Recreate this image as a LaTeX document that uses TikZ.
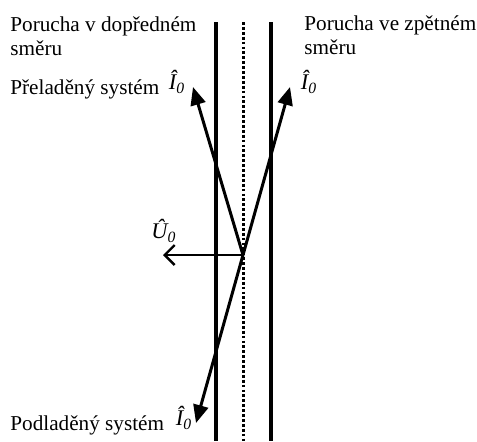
\documentclass[tikz,border=0pt]{standalone}
\usepackage{fontspec}
\setmainfont{Liberation Serif}
\usetikzlibrary{arrows.meta}

\tikzset{
  wall/.style={line width=2pt},
  axisline/.style={line width=1.5pt, dash pattern=on 1.4pt off 1.05pt},
  current/.style={line width=1.5pt, -{Triangle[length=9pt,width=7.5pt]}},
  voltage/.style={line width=1.1pt, -{Straight Barb[length=5pt,width=10pt,line width=1.2pt]}},
  caption/.style={anchor=west, align=left, inner sep=0pt},
  phasor/.style={inner sep=0pt, font=\fontsize{11.2}{12}\selectfont\itshape}
}

\begin{document}
\begin{tikzpicture}[x=0.5pt, y=-0.5pt, font=\fontsize{10.6}{12}\selectfont]
      \useasboundingbox (0,0) rectangle (477,441);

      % LINES
      \coordinate (lt) at (216,22);
      \coordinate (lb) at (216,441);
      \coordinate (rt) at (271,22);
      \coordinate (rb) at (271,441);
      \coordinate (mt) at (243,22);
      \coordinate (mb) at (243,441);

      \draw[wall] (lt) -- (lb);
      \draw[wall] (rt) -- (rb);
      \draw[axisline] (mt) -- (mb);

      % ARROWS
      \coordinate (o)  at (243,255);   % common start point
      \coordinate (iu) at (193,87);
      \coordinate (iz) at (290,87);
      \coordinate (id) at (196,423);
      \coordinate (u)  at (163,255);

      \draw[current] (o) -- (iu);
      \draw[current] (o) -- (iz);
      \draw[current] (o) -- (id);
      \draw[voltage] (o) -- (u);

      % NOTES
      \node[caption] (fwd) at (10,36) {Porucha v dopředném\\směru};
      \node[caption] (bwd) at (304,35) {Porucha ve zpětném\\směru};
      \node[caption] (over) at (10,89) {Přeladěný systém};
      \node[caption] (under) at (10,425) {Podladěný systém};

      \node[phasor] (iul) at (177,82) {Î\textsubscript{0}};
      \node[phasor] (izl) at (309,82) {Î\textsubscript{0}};
      \node[phasor] (idl) at (184,418) {Î\textsubscript{0}};
      \node[phasor] (ul) at (164,231) {Û\textsubscript{0}};

    \end{tikzpicture}
\end{document}
